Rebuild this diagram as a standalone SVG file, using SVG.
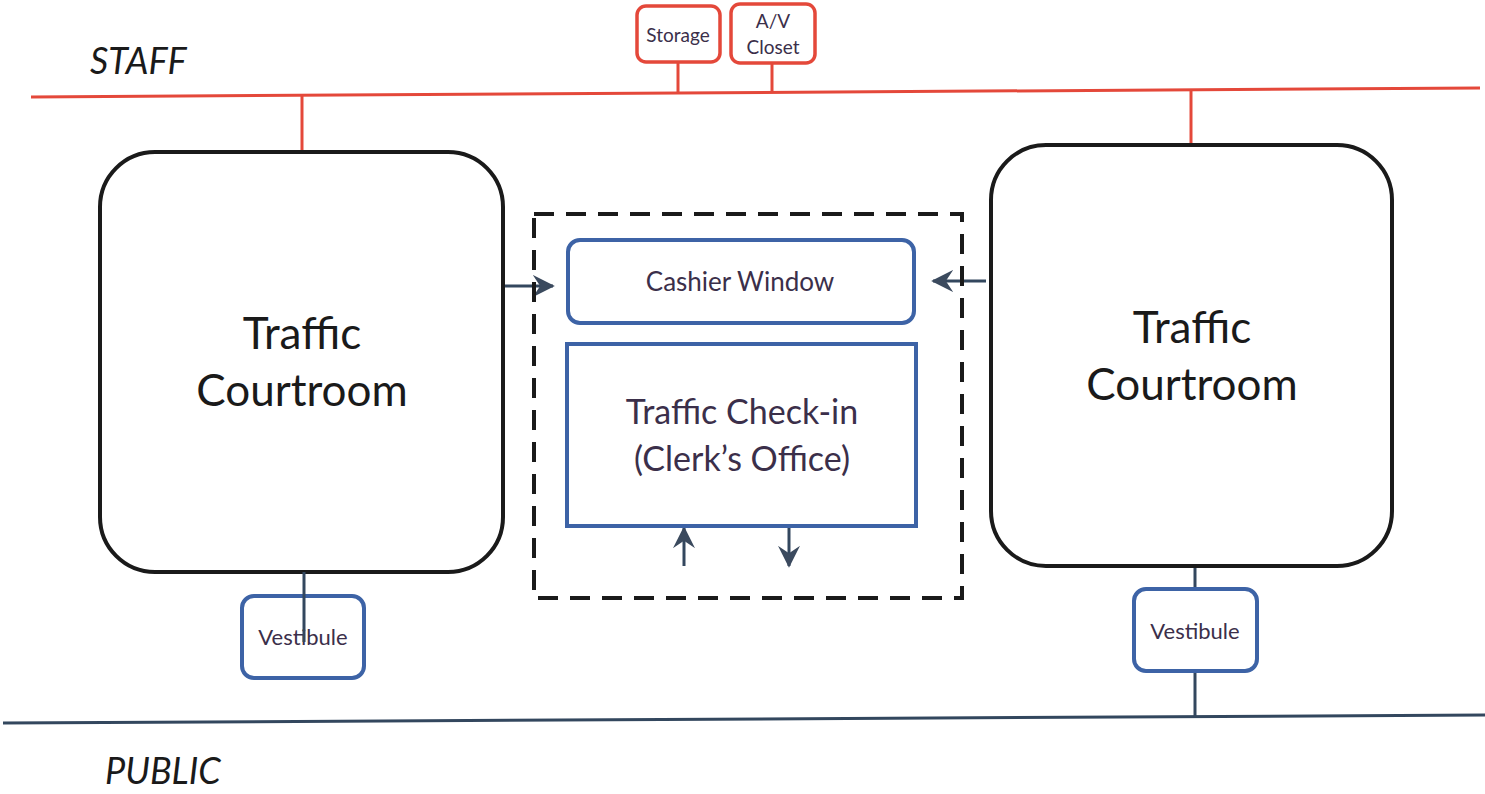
<svg xmlns="http://www.w3.org/2000/svg" width="1485" height="794" viewBox="0 0 1485 794">
<defs>
<style>
.red{fill:#fff;stroke:#e4483a;stroke-width:3.5}
.rl{stroke:#e4483a;stroke-width:3;fill:none}
.court{fill:#fff;stroke:#1a1a1a;stroke-width:4}
.blue{fill:#fff;stroke:#3d63a6;stroke-width:4}
.bl{stroke:#33475e;stroke-width:3;fill:none}
.t{font-family:Lato,"Open Sans",sans-serif;text-anchor:middle;fill:#3b2f4a}
.big{font-family:Lato,"Open Sans",sans-serif;text-anchor:middle;fill:#1a1a1a;font-size:44px}
.lab{font-family:Lato,"Open Sans",sans-serif;font-style:italic;fill:#1a1a1a;font-size:36px}
</style>
<marker id="ah2" viewBox="0 0 12 12" refX="11" refY="6" markerWidth="22" markerHeight="22" markerUnits="userSpaceOnUse" orient="auto">
<path d="M0,0 L12,6 L0,12 L4,6 Z" fill="#3b4a5e"/>
</marker>
</defs>
<rect width="1485" height="794" fill="#fff"/>
<text class="lab" x="90" y="74">STAFF</text>
<text class="lab" x="105" y="784" font-size="37">PUBLIC</text>
<g id="connectors">
<line class="rl" x1="31" y1="97" x2="1480" y2="88"/>
<line class="rl" x1="678" y1="62" x2="678" y2="92"/>
<line class="rl" x1="772" y1="63" x2="772" y2="91"/>
<line class="rl" x1="302" y1="96" x2="302" y2="152"/>
<line class="rl" x1="1191" y1="89" x2="1191" y2="145"/>
<line x1="3" y1="723" x2="1485" y2="715" stroke="#33475e" stroke-width="3"/>
<line class="bl" x1="1195" y1="566" x2="1195" y2="590"/>
<line class="bl" x1="1195" y1="670" x2="1195" y2="717"/>
<line class="bl" x1="503" y1="286" x2="553" y2="286" marker-end="url(#ah2)"/>
<line class="bl" x1="986" y1="281" x2="933" y2="281" marker-end="url(#ah2)"/>
<line class="bl" x1="684" y1="566" x2="684" y2="528" marker-end="url(#ah2)"/>
<line class="bl" x1="789" y1="524" x2="789" y2="566" marker-end="url(#ah2)"/>
</g>
<g id="storage">
<rect class="red" x="637" y="6" width="83" height="56" rx="9"/>
<text class="t" x="678" y="42" font-size="19">Storage</text>
</g>
<g id="av-closet">
<rect class="red" x="731" y="4" width="84" height="59" rx="9"/>
<text class="t" x="773" y="28" font-size="19">A/V</text>
<text class="t" x="773" y="54" font-size="19">Closet</text>
</g>
<g id="courtroom-left">
<rect class="court" x="100" y="152" width="403" height="420" rx="55"/>
<text class="big" x="302" y="349">Traffic</text>
<text class="big" x="302" y="406">Courtroom</text>
</g>
<g id="courtroom-right">
<rect class="court" x="991" y="145" width="401" height="421" rx="55"/>
<text class="big" x="1192" y="343">Traffic</text>
<text class="big" x="1192" y="400">Courtroom</text>
</g>
<g id="clerk-area">
<rect x="534" y="214" width="428" height="384" fill="none" stroke="#1a1a1a" stroke-width="4" stroke-dasharray="20,12"/>
</g>
<g id="cashier-window">
<rect class="blue" x="568" y="240" width="346" height="83" rx="12"/>
<text class="t" x="740" y="291" font-size="26">Cashier Window</text>
</g>
<g id="traffic-checkin">
<rect class="blue" x="567" y="344" width="349" height="182"/>
<text class="t" x="742" y="424" font-size="34">Traffic Check-in</text>
<text class="t" x="742" y="471" font-size="34">(Clerk’s Office)</text>
</g>
<g id="vestibule-left">
<rect class="blue" x="242" y="596" width="122" height="82" rx="12"/>
<text class="t" x="303" y="645" font-size="22">Vestibule</text>
<line class="bl" x1="304" y1="572" x2="304" y2="642"/>
</g>
<g id="vestibule-right">
<rect class="blue" x="1134" y="589" width="123" height="82" rx="12"/>
<text class="t" x="1195" y="639" font-size="22">Vestibule</text>
</g>
</svg>
